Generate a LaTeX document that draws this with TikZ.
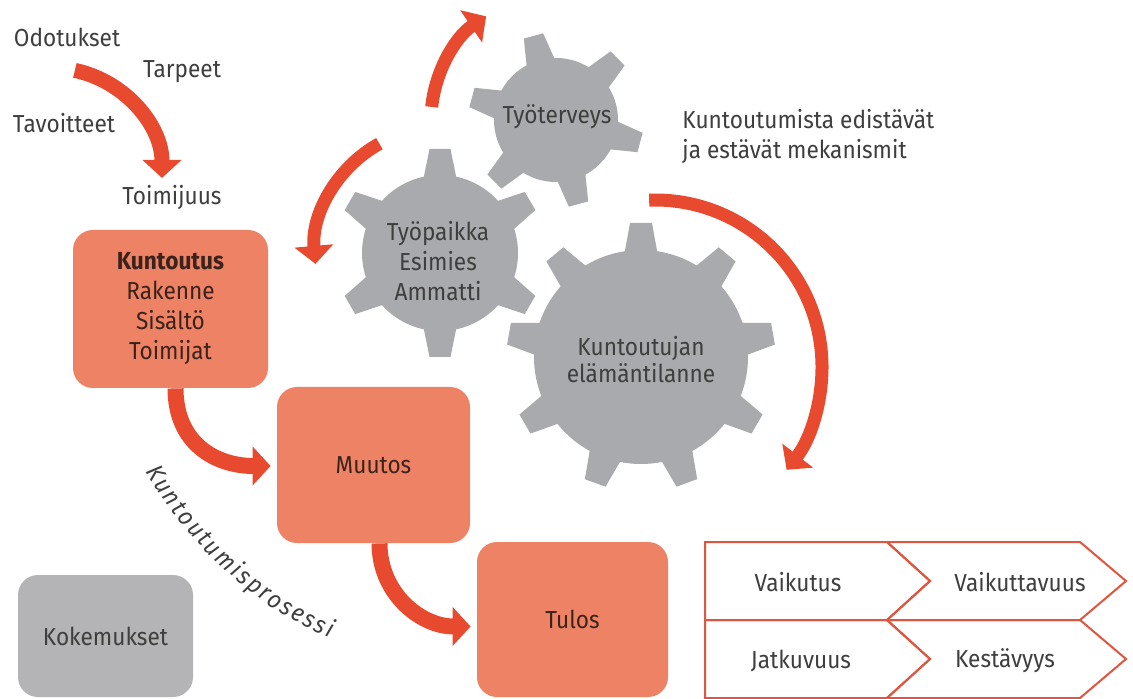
\documentclass[tikz,border=0pt]{standalone}
\usepackage{fontspec}
\setmainfont{Fira Sans}[FakeStretch=0.92]
\usetikzlibrary{arrows.meta,decorations.text,calc}

\definecolor{arrowred}{HTML}{E84A30}
\definecolor{boxsalmon}{HTML}{EE8264}
\definecolor{geargray}{HTML}{A9AAAD}
\definecolor{boxgray}{HTML}{B4B4B6}
\definecolor{txtgray}{HTML}{3E3E3E}
\definecolor{boxtxt}{HTML}{3A231C}
\definecolor{chevronred}{HTML}{E0553F}

% gear: centre x, centre y (downwards), body radius, outer radius,
% number of teeth, first tooth angle, half base width, half tip width
\newcommand\drawgear[8]{%
  \begin{scope}[shift={(#1,-#2)}]
    \fill[geargray] (0,0) circle[radius=#3];
    \foreach \k in {1,...,#5} {
      \pgfmathsetmacro\ang{#6+360/#5*(\k-1)}
      \fill[geargray, rotate=\ang] ({#3-6},-#7) -- (#4,-#8) -- (#4,#8) -- ({#3-6},#7) -- cycle;
    }
  \end{scope}}

\tikzset{
  lbl/.style={text=txtgray, font=\fontsize{12.3}{15}\selectfont, align=center, inner sep=0pt},
  salbox/.style={fill=boxsalmon, rounded corners=10pt, text=boxtxt,
    font=\fontsize{12.3}{15}\selectfont, align=center, inner sep=0pt},
  graybox/.style={fill=boxgray, rounded corners=10pt, text=txtgray,
    font=\fontsize{12.3}{15}\selectfont, align=center, inner sep=0pt},
  bigarrow/.style={draw=arrowred, line width=#1, -{Triangle[width=19pt,length=9pt]}},
  chev/.style={draw=chevronred, line width=1pt, line join=miter},
}

\begin{document}
\begin{tikzpicture}[x=0.5pt, y=0.5pt]
  \useasboundingbox (0,0) rectangle (1133,-699);
  \fill[white] (0,0) rectangle (1133,-699);

  % expectations arrow
  \node[lbl] (odotukset) at (67,-37) {Odotukset};
  \node[lbl] (tarpeet) at (182,-72) {Tarpeet};
  \node[lbl] (tavoitteet) at (64,-123) {Tavoitteet};
  \node[lbl] (toimijuus) at (172,-198) {Toimijuus};
  \draw[bigarrow=7.5pt] ($(52,-178)+(78:110)$) arc[start angle=78, end angle=0, radius=110];

  % gears
  \drawgear{556}{120}{62}{87}{6}{45}{15}{10}
  \drawgear{440}{253}{78}{104}{6}{30}{17}{10.5}
  \drawgear{641}{357}{107}{134}{9}{90}{17}{11}

  \node[lbl] (tyoterveys) at (557,-117) {Työterveys};
  \node[lbl] (tyopaikka) at (438,-261) {Työpaikka\\Esimies\\Ammatti};
  \node[lbl, font=\fontsize{12.3}{13.5}\selectfont] (elamantilanne) at (641,-360) {Kuntoutujan\\elämäntilanne};

  % arrows around the gears
  \draw[bigarrow=6.5pt] ($(556,-120)+(174:125)$) arc[start angle=174, end angle=124, radius=125];
  \draw[bigarrow=6.5pt] ($(440,-253)+(119:125)$) arc[start angle=119, end angle=185, radius=125];
  \draw[bigarrow=6.5pt] ($(655,-367)+(92:167)$) arc[start angle=92, end angle=-38, radius=167];

  \node[lbl, align=left, anchor=west] (mekanismit) at (682,-137)
    {Kuntoutumista edistävät\\ja estävät mekanismit};

  % process boxes
  \node[salbox, minimum width=97.5pt, minimum height=79pt] (kuntoutus) at (170.5,-309)
    {\textbf{Kuntoutus}\\Rakenne\\Sisältö\\Toimijat};
  \node[salbox, minimum width=96.5pt, minimum height=78pt] (muutos) at (373.5,-465) {Muutos};
  \node[salbox, minimum width=95.5pt, minimum height=77.5pt] (tulos) at (572.5,-619.5) {Tulos};
  \node[graybox, minimum width=87.5pt, minimum height=61pt] (kokemukset) at (105.5,-636) {Kokemukset};

  \draw[bigarrow=8pt] ([shift={(5,0)}]kuntoutus.south) .. controls +(0,-55) and +(-55,0)
    .. ([shift={(-6,-1)}]muutos.west);
  \draw[bigarrow=8pt] ([shift={(6,0)}]muutos.south) .. controls +(0,-50) and +(-50,0)
    .. ([shift={(-6,-7)}]tulos.west);

  % curved process label
  \path[decorate, decoration={text along path, text align={fit to path},
      text format delimiters={|}{|},
      text={|\color{txtgray}\fontsize{12.3}{15}\selectfont\itshape|Kuntoutumisprosessi}}]
    (146,-471) .. controls (185,-540) and (250,-605) .. (330,-638);

  % outcome chevrons
  \draw[chev] (705,-542) -- (887,-542) -- (930,-581) -- (887,-620) -- (705,-620) -- cycle;
  \draw[chev] (887,-542) -- (1080,-542) -- (1126,-581) -- (1080,-620) -- (887,-620) -- (930,-581) -- cycle;
  \draw[chev] (705,-620) -- (887,-620) -- (930,-659) -- (887,-698) -- (705,-698) -- cycle;
  \draw[chev] (887,-620) -- (1080,-620) -- (1126,-659) -- (1080,-698) -- (887,-698) -- (930,-659) -- cycle;

  \node[lbl] (vaikutus) at (798,-582) {Vaikutus};
  \node[lbl] (vaikuttavuus) at (1020,-582) {Vaikuttavuus};
  \node[lbl] (jatkuvuus) at (801,-661) {Jatkuvuus};
  \node[lbl] (kestavyys) at (1005,-661) {Kestävyys};
\end{tikzpicture}
\end{document}
